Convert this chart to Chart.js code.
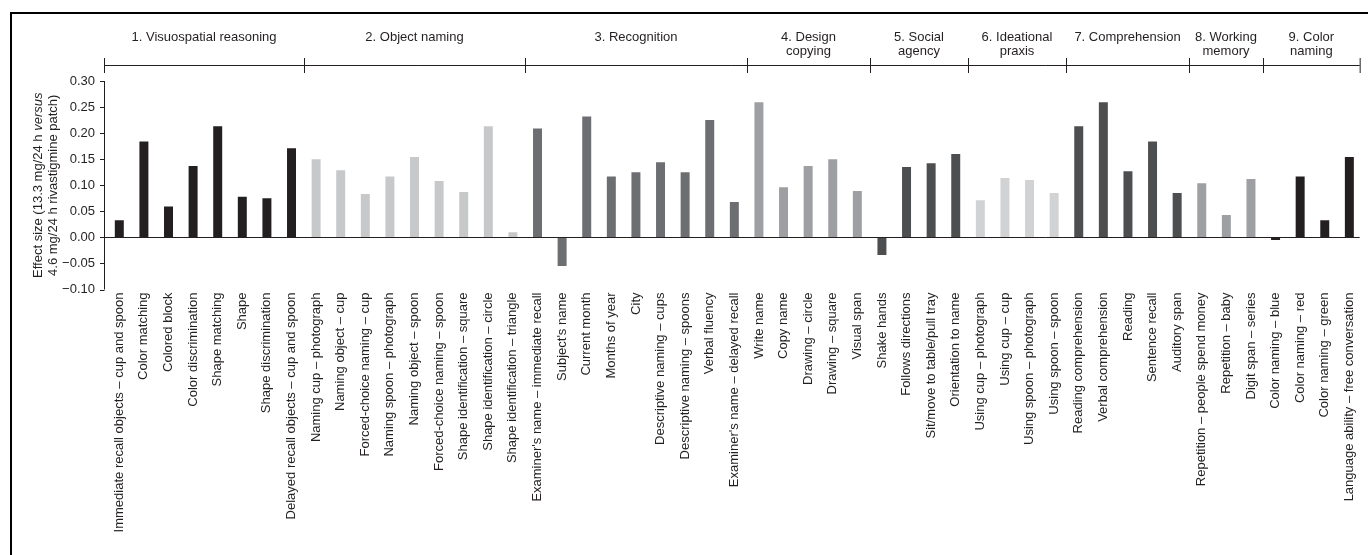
<!DOCTYPE html>
<html>
<head>
<meta charset="utf-8">
<script src="https://cdn.jsdelivr.net/npm/chart.js@4.4.1/dist/chart.umd.min.js"></script>
<style>
  html, body { margin: 0; padding: 0; background: #fff; overflow: hidden; }
  canvas { display: block; }
</style>
</head>
<body>
<canvas id="chart" width="1368" height="555"></canvas>
<script>
// Test items, in plotting order
const categories = [
  "Immediate recall objects – cup and spoon", "Color matching", "Colored block", "Color discrimination",
  "Shape matching", "Shape", "Shape discrimination", "Delayed recall objects – cup and spoon",
  "Naming cup – photograph", "Naming object – cup", "Forced-choice naming – cup", "Naming spoon – photograph",
  "Naming object – spoon", "Forced-choice naming – spoon", "Shape identification – square",
  "Shape identification – circle", "Shape identification – triangle",
  "Examiner's name – immediate recall", "Subject's name", "Current month", "Months of year", "City",
  "Descriptive naming – cups", "Descriptive naming – spoons", "Verbal fluency", "Examiner's name – delayed recall",
  "Write name", "Copy name", "Drawing – circle", "Drawing – square", "Visual span",
  "Shake hands", "Follows directions", "Sit/move to table/pull tray", "Orientation to name",
  "Using cup – photograph", "Using cup – cup", "Using spoon – photograph", "Using spoon – spoon",
  "Reading comprehension", "Verbal comprehension", "Reading", "Sentence recall", "Auditory span",
  "Repetition – people spend money", "Repetition – baby", "Digit span – series",
  "Color naming – blue", "Color naming – red", "Color naming – green", "Language ability – free conversation"
];

// Effect size per item
const effectSizes = [
  0.033, 0.184, 0.059, 0.137, 0.213, 0.078, 0.075, 0.171,
  0.150, 0.129, 0.083, 0.117, 0.154, 0.108, 0.087, 0.213, 0.010,
  0.209, -0.055, 0.232, 0.117, 0.125, 0.144, 0.125, 0.225, 0.068,
  0.259, 0.096, 0.137, 0.150, 0.089,
  -0.034, 0.135, 0.142, 0.160,
  0.071, 0.114, 0.110, 0.085,
  0.213, 0.259, 0.127, 0.184, 0.085,
  0.104, 0.043, 0.112,
  -0.005, 0.117, 0.033, 0.154
];

// Domains: header text, number of items, bar colour
const groupNames = [
  ["1. Visuospatial reasoning"], ["2. Object naming"], ["3. Recognition"],
  ["4. Design", "copying"], ["5. Social", "agency"], ["6. Ideational", "praxis"],
  ["7. Comprehension"], ["8. Working", "memory"], ["9. Color", "naming"]
];
const groupSizes = [8, 9, 9, 5, 4, 4, 5, 3, 4];
const groupColors = ["#231f20", "#c7c8ca", "#6d6e71", "#9d9fa2", "#4d4e50", "#d1d2d4", "#4d4e50", "#9d9fa2", "#231f20"];

const yTickValues = [0.30, 0.25, 0.20, 0.15, 0.10, 0.05, 0.00, -0.05, -0.10];
const yTitleLines = [["Effect size (13.3 mg/24 h ", "versus"], ["4.6 mg/24 h rivastigmine patch)", ""]];

const FONT = "'Liberation Sans', Arial, Helvetica, sans-serif";
const FS = 13;
const INK = "#231f20";

const barColors = [];
groupSizes.forEach((n, g) => { for (let i = 0; i < n; i++) barColors.push(groupColors[g]); });

const decorations = {
  id: "decorations",
  afterDatasetsDraw(chart) {
    const { ctx, chartArea, scales } = chart;
    const xs = scales.x, ys = scales.y;
    const axisX = chartArea.left - 3;
    const rightX = chartArea.right - 2;
    ctx.save();

    // outer frame (top and left edges)
    ctx.fillStyle = "#000";
    ctx.fillRect(10, 12, 1368 - 10, 2);
    ctx.fillRect(10, 12, 2, 555 - 12);

    ctx.strokeStyle = INK;
    ctx.lineWidth = 1;

    // y axis line and tick marks
    ctx.beginPath();
    ctx.moveTo(axisX + 0.5, ys.getPixelForValue(0.30));
    ctx.lineTo(axisX + 0.5, ys.getPixelForValue(-0.10));
    yTickValues.forEach(v => {
      const y = Math.round(ys.getPixelForValue(v)) + 0.5;
      ctx.moveTo(axisX - 4, y);
      ctx.lineTo(axisX + 0.5, y);
    });
    ctx.stroke();

    // zero line
    const y0 = Math.round(ys.getPixelForValue(0)) + 0.5;
    ctx.beginPath();
    ctx.moveTo(axisX, y0);
    ctx.lineTo(rightX, y0);
    ctx.stroke();

    // domain bracket
    const step = xs.getPixelForTick(1) - xs.getPixelForTick(0);
    const bounds = [axisX];
    let idx = 0;
    groupSizes.forEach((n, g) => {
      idx += n;
      bounds.push(g === groupSizes.length - 1 ? rightX : Math.round(xs.getPixelForTick(idx - 1) + step / 2));
    });
    const by = 65.5;
    ctx.beginPath();
    ctx.moveTo(axisX, by);
    ctx.lineTo(rightX, by);
    bounds.forEach(b => {
      ctx.moveTo(b + 0.5, 58);
      ctx.lineTo(b + 0.5, 73);
    });
    ctx.stroke();

    // domain headers
    ctx.fillStyle = INK;
    ctx.font = FS + "px " + FONT;
    ctx.textAlign = "center";
    ctx.textBaseline = "middle";
    groupNames.forEach((lines, g) => {
      const cx = (bounds[g] + bounds[g + 1]) / 2;
      lines.forEach((t, k) => ctx.fillText(t, cx, 37 + k * 14.5));
    });

    // y axis title with italic "versus"
    const cy = (ys.getPixelForValue(0.30) + ys.getPixelForValue(-0.10)) / 2;
    yTitleLines.forEach((parts, k) => {
      ctx.save();
      ctx.translate(38 + k * 15, cy);
      ctx.rotate(-Math.PI / 2);
      ctx.textAlign = "left";
      ctx.textBaseline = "middle";
      const fN = FS + "px " + FONT, fI = "italic " + FS + "px " + FONT;
      ctx.font = fN; const w1 = ctx.measureText(parts[0]).width;
      ctx.font = fI; const w2 = parts[1] ? ctx.measureText(parts[1]).width : 0;
      const x = -(w1 + w2) / 2;
      ctx.font = fN; ctx.fillText(parts[0], x, 0);
      if (parts[1]) { ctx.font = fI; ctx.fillText(parts[1], x + w1, 0); }
      ctx.restore();
    });

    ctx.restore();
  }
};

new Chart(document.getElementById("chart"), {
  type: "bar",
  data: {
    labels: categories,
    datasets: [{
      data: effectSizes,
      backgroundColor: barColors,
      borderWidth: 0,
      categoryPercentage: 1.0,
      barPercentage: 0.365
    }]
  },
  options: {
    responsive: false,
    animation: false,
    devicePixelRatio: 1,
    layout: { padding: { left: 0, top: 81, right: 4, bottom: 0 } },
    plugins: { legend: { display: false }, tooltip: { enabled: false } },
    scales: {
      x: {
        grid: { display: false, drawTicks: false },
        border: { display: false },
        ticks: {
          autoSkip: false, maxRotation: 90, minRotation: 90, padding: 3,
          color: INK, font: { family: FONT, size: FS }
        },
        afterFit(scale) { scale.height = 555 - 289.5; }
      },
      y: {
        min: -0.10, max: 0.30,
        grid: { display: false, drawTicks: false },
        border: { display: false },
        afterBuildTicks(scale) { scale.ticks = yTickValues.map(v => ({ value: v })); },
        ticks: {
          padding: 12, color: INK, font: { family: FONT, size: FS },
          callback: v => (v < 0 ? "\u2212" : "") + Math.abs(v).toFixed(2)
        },
        afterFit(scale) { scale.width = 107; }
      }
    }
  },
  plugins: [decorations]
});
</script>
</body>
</html>
